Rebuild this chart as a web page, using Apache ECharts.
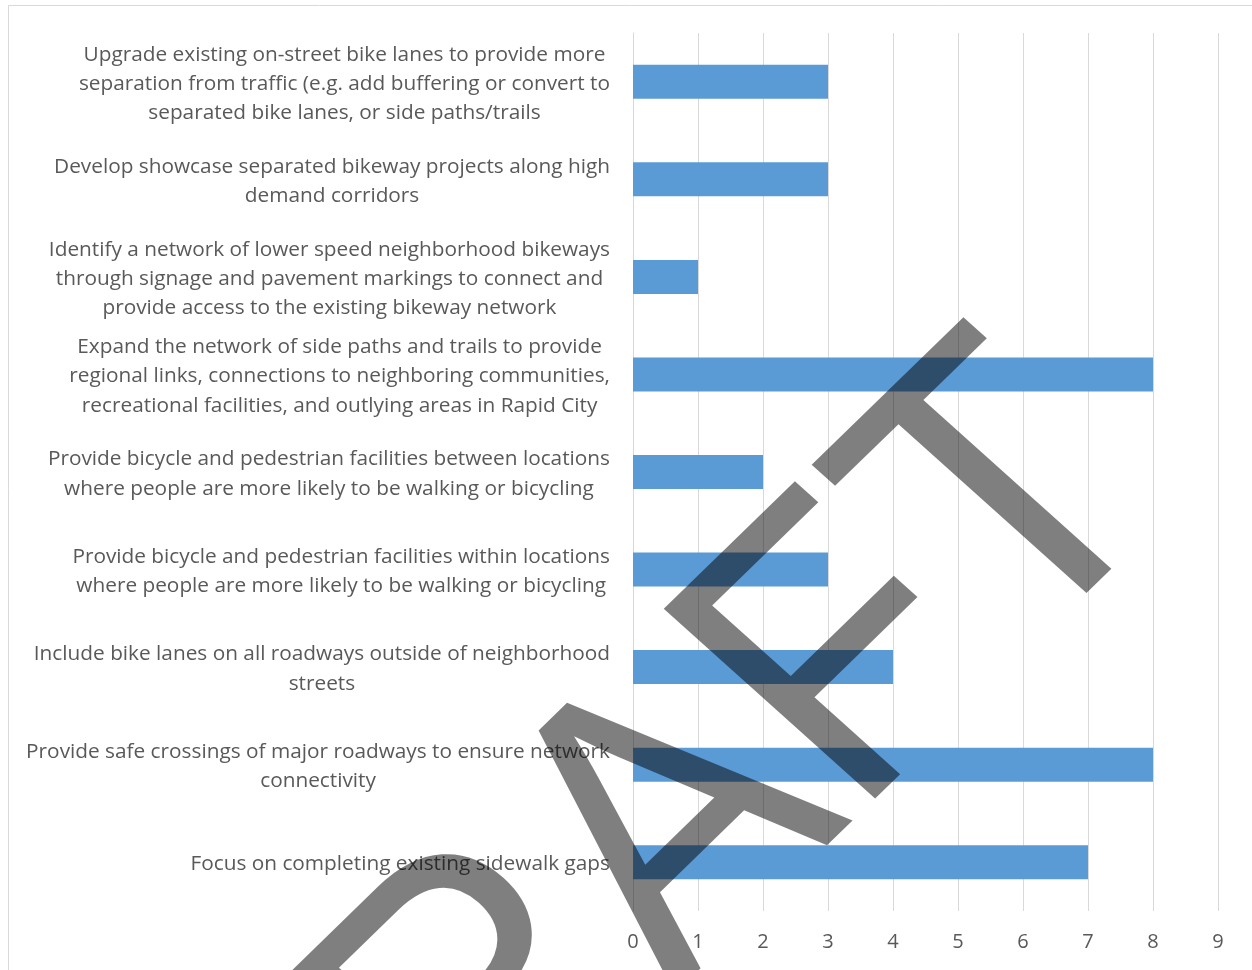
<!DOCTYPE html>
<html>
<head>
<meta charset="utf-8">
<script src="https://cdn.jsdelivr.net/npm/echarts@6/dist/echarts.min.js"></script>
<style>
html,body{margin:0;padding:0;background:#fff;}
#chart{width:1252px;height:970px;}
</style>
</head>
<body>
<div id="chart"></div>
<script>
const categories = [
  "Upgrade existing on-street bike lanes to provide more\nseparation from traffic (e.g. add buffering or convert to\nseparated bike lanes, or side paths/trails",
  "Develop showcase separated bikeway projects along high\ndemand corridors",
  "Identify a network of lower speed neighborhood bikeways\nthrough signage and pavement markings to connect and\nprovide access to the existing bikeway network",
  "Expand the network of side paths and trails to provide\nregional links, connections to neighboring communities,\nrecreational facilities, and outlying areas in Rapid City",
  "Provide bicycle and pedestrian facilities between locations\nwhere people are more likely to be walking or bicycling",
  "Provide bicycle and pedestrian facilities within locations\nwhere people are more likely to be walking or bicycling",
  "Include bike lanes on all roadways outside of neighborhood\nstreets",
  "Provide safe crossings of major roadways to ensure network\nconnectivity",
  "Focus on completing existing sidewalk gaps"
];
const values = [3, 3, 1, 8, 2, 3, 4, 8, 7];
const xMin = 0, xMax = 9, xInterval = 1;
const watermarkText = "DRAFT";

const chart = echarts.init(document.getElementById('chart'));
const labelFont = 'Open Sans';
chart.setOption({
  animation: false,
  backgroundColor: '#ffffff',
  grid: { left: 633, right: 34, top: 33, bottom: 59, containLabel: false },
  xAxis: {
    type: 'value', min: xMin, max: xMax, interval: xInterval,
    axisLine: { show: false }, axisTick: { show: false },
    splitLine: { show: true, lineStyle: { color: '#d9d9d9', width: 1 } },
    axisLabel: { color: '#595959', fontFamily: labelFont, fontSize: 20, margin: 21 }
  },
  yAxis: {
    type: 'category', data: categories, inverse: true,
    axisLine: { show: true, lineStyle: { color: '#d9d9d9', width: 1 } },
    axisTick: { show: false },
    axisLabel: {
      color: '#595959', fontFamily: labelFont, fontSize: 20.8, margin: 23,
      lineHeight: 29.2, interval: 0,
      formatter: function (v) { return v.split('\n').map(function (l) { return '{c|' + l + '}'; }).join('\n'); },
      rich: { c: { align: 'center', color: '#595959', fontFamily: labelFont, fontSize: 20.8, lineHeight: 29.2, padding: [4, 0, 0, 0] } }
    }
  },
  series: [{
    type: 'bar', data: values, barWidth: 34,
    itemStyle: { color: '#5b9bd5' }
  }],
  graphic: [
    { type: 'rect', silent: true, z: 0, shape: { x: 8.5, y: 5.5, width: 1300, height: 1000 },
      style: { fill: 'none', stroke: '#d9d9d9', lineWidth: 1 } },
    { type: 'group', x: 649, y: 860, scaleX: 1.07, z: 100,
      children: [{ type: 'text', rotation: Math.PI / 4 + 0.02, scaleY: 1.1, z: 100,
        style: { text: watermarkText, fontFamily: 'Liberation Sans', fontSize: 362,
          fill: 'rgba(0,0,0,0.5)', align: 'center', textAlign: 'center', verticalAlign: 'middle', textVerticalAlign: 'middle' } }] }
  ]
});
</script>
</body>
</html>
